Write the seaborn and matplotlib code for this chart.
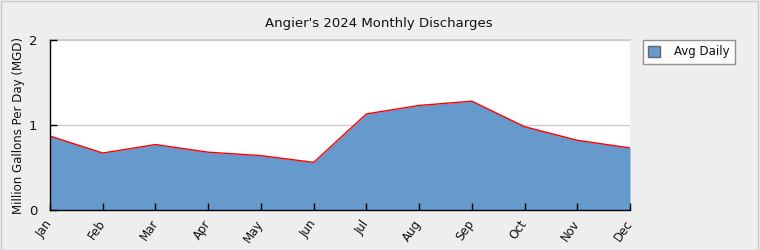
import matplotlib
matplotlib.use("Agg")
import matplotlib.pyplot as plt
import seaborn as sns
import pandas as pd
import numpy as np
from matplotlib.patches import Rectangle, Patch

months = ["Jan", "Feb", "Mar", "Apr", "May", "Jun", "Jul", "Aug", "Sep", "Oct", "Nov", "Dec"]
avg_daily = [0.87, 0.67, 0.77, 0.68, 0.64, 0.56, 1.13, 1.23, 1.28, 0.98, 0.82, 0.73]
y_ticks = [0, 1, 2]

sns.set_theme(style="white")
plt.rcParams['font.family'] = ['DejaVu Sans']
plt.rcParams['text.color'] = '#111111'
plt.rcParams['axes.labelcolor'] = '#111111'
plt.rcParams['xtick.labelcolor'] = '#111111'
plt.rcParams['ytick.labelcolor'] = '#111111'

df = pd.DataFrame({"month": months, "value": avg_daily, "idx": range(len(months))})

fig = plt.figure(figsize=(7.6, 2.5), dpi=100, facecolor="#eeeeee")
fig.patches.append(Rectangle((0.001, 0.002), 0.997, 0.994, transform=fig.transFigure,
                             fill=False, edgecolor="#c8c8c8", linewidth=1))
ax = fig.add_axes([50/760, 40/250, 580/760, 170/250])
ax.set_facecolor("white")

for t in y_ticks[1:]:
    ax.axhline(t, color="#cccccc", linewidth=1, zorder=1)
ax.fill_between(df["idx"], df["value"], 0, color="#6699cc", linewidth=0, zorder=2)
sns.lineplot(data=df, x="idx", y="value", ax=ax, color="red", linewidth=1.0, zorder=3)

ax.set_xlim(0, len(months) - 1)
ax.set_ylim(0, 2)
ax.set_yticks(y_ticks)
ax.set_yticklabels([str(t) for t in y_ticks], fontsize=9.5)
ax.set_xticks(df["idx"])
ax.set_xticklabels(months, fontsize=8.5, rotation=55, ha="right", va="center",
                   rotation_mode="anchor")
ax.set_xlabel("")
ax.set_ylabel("Million Gallons Per Day (MGD)", fontsize=8.5, labelpad=3)

ax.grid(False)
ax.set_axisbelow(False)
ax.tick_params(axis="both", direction="in", length=5, width=1, color="black",
               left=True, bottom=True, zorder=5)
ax.tick_params(axis="y", pad=9)
ax.tick_params(axis="x", pad=8)
for s in ["left", "bottom"]:
    ax.spines[s].set_color("black")
    ax.spines[s].set_linewidth(1)
    ax.spines[s].set_zorder(6)
ax.spines["top"].set_color("#cccccc")
ax.spines["right"].set_visible(False)

fig.text(379/760, 1 - 24/250, "Angier's 2024 Monthly Discharges", ha="center", va="center", fontsize=9.5)

leg = fig.legend(handles=[Patch(facecolor="#6699cc", edgecolor="#666666", label="Avg Daily")],
                 loc="upper left", bbox_to_anchor=(643/760, 1 - 40/250), fontsize=8.5,
                 frameon=True, fancybox=False, handlelength=1.0, handleheight=1.0,
                 borderpad=0.45, handletextpad=1.2, borderaxespad=0)
leg.get_frame().set_edgecolor("#777777")
leg.get_frame().set_linewidth(1)

fig.savefig("out.png", dpi=100, facecolor=fig.get_facecolor())
